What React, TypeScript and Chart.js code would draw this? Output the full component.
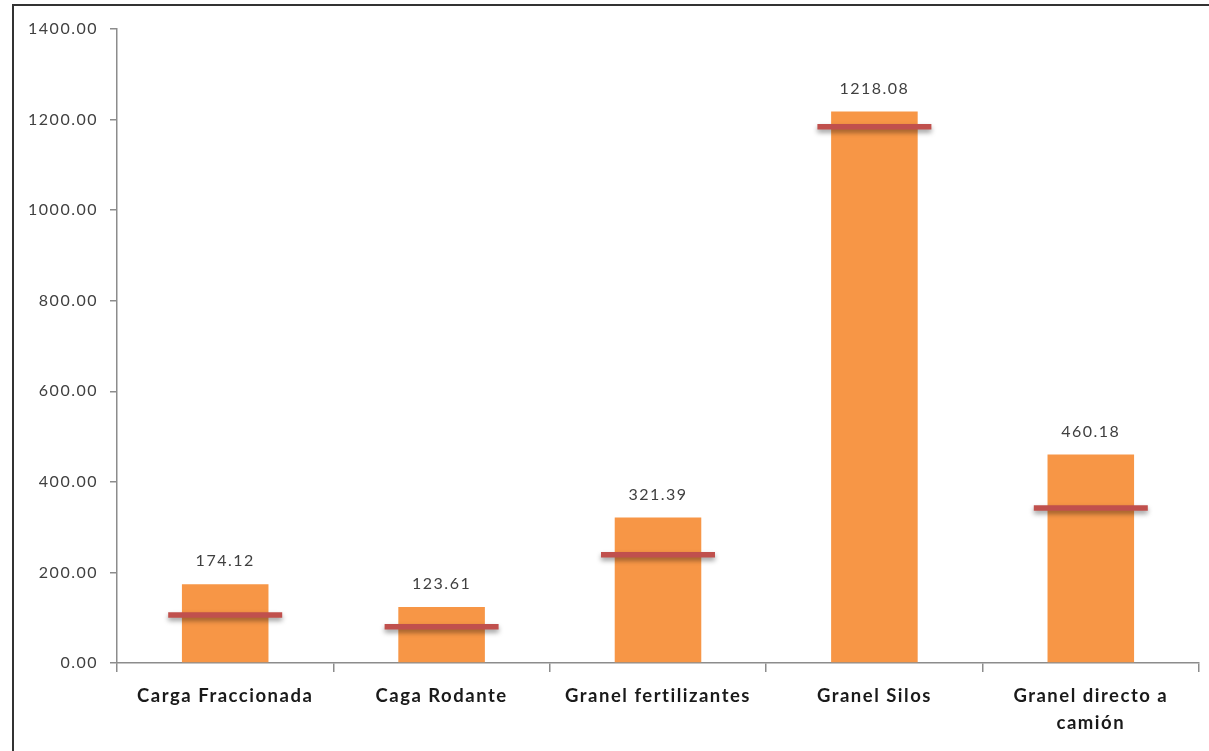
import React, { useEffect, useRef } from "react";
import { Chart, registerables } from "chart.js";

Chart.register(...registerables);

const categories: (string | string[])[] = [
  "Carga Fraccionada",
  "Caga Rodante",
  "Granel fertilizantes",
  "Granel Silos",
  ["Granel directo a", "camión"],
];
const barValues = [174.12, 123.61, 321.39, 1218.08, 460.18];
const markerValues = [106, 80, 239, 1184, 342];
const yTicks = [0, 200, 400, 600, 800, 1000, 1200, 1400];

const BAR_COLOR = "#F79646";
const MARK_COLOR = "#C0504D";
const AXIS_COLOR = "#8C8C8C";
const FONT = "Lato, 'Open Sans', sans-serif";

const spacingPlugin = {
  id: "spacing",
  beforeDraw(chart: any) {
    chart.ctx.letterSpacing = "1.5px";
  },
};

const shadowPlugin = {
  id: "markShadow",
  beforeDatasetDraw(chart: any, args: any) {
    if (args.index === 1) {
      const ctx = chart.ctx;
      ctx.save();
      ctx.shadowColor = "rgba(0,0,0,0.4)";
      ctx.shadowBlur = 5;
      ctx.shadowOffsetY = 3;
    }
  },
  afterDatasetDraw(chart: any, args: any) {
    if (args.index === 1) chart.ctx.restore();
  },
};

const labelPlugin = {
  id: "barLabels",
  afterDatasetsDraw(chart: any) {
    const ctx = chart.ctx;
    const meta = chart.getDatasetMeta(0);
    ctx.save();
    ctx.font = `16px ${FONT}`;
    ctx.fillStyle = "#404040";
    ctx.textAlign = "center";
    ctx.textBaseline = "middle";
    meta.data.forEach((el: any, i: number) => {
      ctx.fillText(barValues[i].toFixed(2), el.x, el.y - 23);
    });
    ctx.restore();
  },
};

export default function App() {
  const ref = useRef<HTMLCanvasElement>(null);
  useEffect(() => {
    if (!ref.current) return;
    const chart = new Chart(ref.current, {
      type: "bar",
      data: {
        labels: categories,
        datasets: [
          {
            type: "bar",
            data: barValues,
            backgroundColor: BAR_COLOR,
            barPercentage: 0.4,
            categoryPercentage: 1,
            order: 2,
          },
          {
            type: "line",
            data: markerValues,
            showLine: false,
            clip: false,
            pointStyle: "line",
            pointRadius: 57,
            pointHoverRadius: 57,
            pointBorderWidth: 5.5,
            borderColor: MARK_COLOR,
            backgroundColor: MARK_COLOR,
            order: 1,
          } as any,
        ],
      },
      options: {
        animation: false,
        responsive: false,
        events: [],
        layout: { autoPadding: false, padding: { left: 0, top: 29, right: 10, bottom: 0 } },
        plugins: {
          legend: { display: false },
          tooltip: { enabled: false },
        },
        scales: {
          x: {
            offset: true,
            grid: {
              display: true,
              drawOnChartArea: false,
              offset: true,
              tickLength: 9,
              color: AXIS_COLOR,
              lineWidth: 1.5,
            },
            border: { color: AXIS_COLOR, width: 1.5 },
            ticks: {
              color: "#1a1a1a",
              font: { family: FONT, size: 18.5, weight: "bold", lineHeight: 1.45 },
              padding: 11,
              maxRotation: 0,
              autoSkip: false,
            },
            afterFit(scale: any) {
              scale.height = 88;
            },
          },
          y: {
            min: 0,
            max: 1400,
            afterBuildTicks(scale: any) {
              scale.ticks = yTicks.map((v) => ({ value: v }));
            },
            grid: {
              display: true,
              drawOnChartArea: false,
              tickLength: 7,
              color: AXIS_COLOR,
              lineWidth: 1.5,
            },
            border: { color: AXIS_COLOR, width: 1.5 },
            ticks: {
              color: "#404040",
              font: { family: FONT, size: 16 },
              padding: 12,
              callback: (v: any) => Number(v).toFixed(2),
            },
            afterFit(scale: any) {
              scale.width = 117;
            },
          },
        },
      },
      plugins: [spacingPlugin, shadowPlugin, labelPlugin],
    });
    return () => chart.destroy();
  }, []);

  return (
    <div
      style={{
        position: "absolute",
        left: 0,
        top: 0,
        width: 1209,
        height: 751,
        overflow: "hidden",
        background: "#fff",
      }}
    >
      <div
        style={{
          position: "absolute",
          left: 12,
          top: 4,
          width: 1400,
          height: 900,
          borderLeft: "2px solid #333",
          borderTop: "2px solid #333",
        }}
      />
      <canvas
        ref={ref}
        width={1209}
        height={751}
        style={{ position: "absolute", left: 0, top: 0, width: 1209, height: 751 }}
      />
    </div>
  );
}
